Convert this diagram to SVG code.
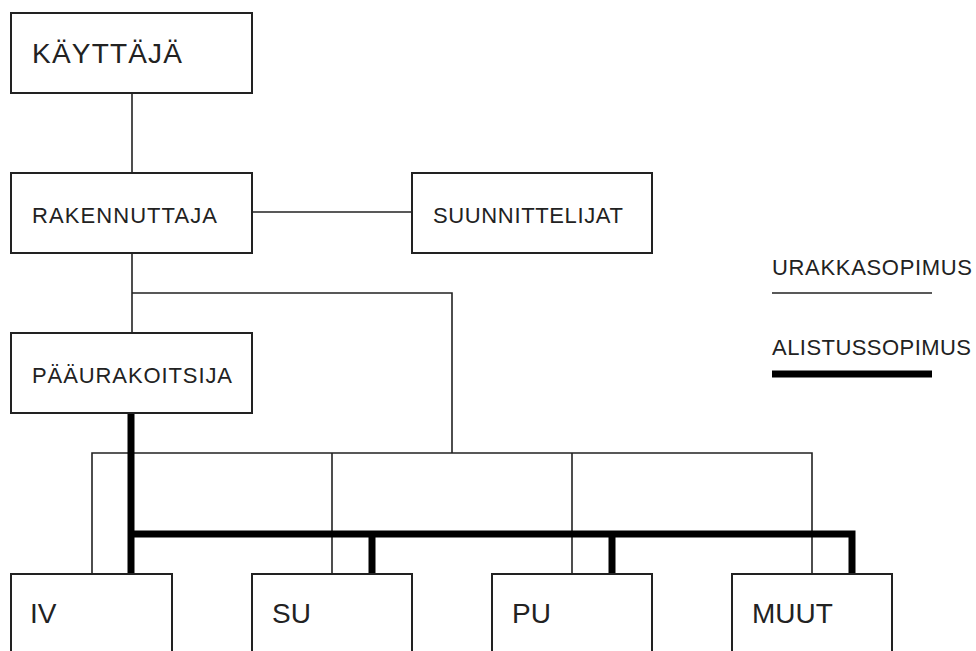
<svg xmlns="http://www.w3.org/2000/svg" width="976" height="651" viewBox="0 0 976 651">
<style>
.box{fill:#fff;stroke:#222;stroke-width:2}
.lbl{font-family:"Liberation Sans",Arial,sans-serif;fill:#222;font-size:22px}
.big{font-size:28px}
.thin{fill:none;stroke:#222;stroke-width:1.6}
.thick{fill:none;stroke:#000;stroke-width:7;stroke-linejoin:miter}
</style>
<rect width="976" height="651" fill="#fff"/>
<g id="connectors">
<line class="thin" x1="132" y1="93" x2="132" y2="173"/>
<line class="thin" x1="252" y1="212" x2="412" y2="212"/>
<line class="thin" x1="132" y1="253" x2="132" y2="333"/>
<polyline class="thin" points="132,293 452,293 452,453"/>
<polyline class="thin" points="92,574 92,453 812,453 812,574"/>
<line class="thin" x1="332" y1="453" x2="332" y2="574"/>
<line class="thin" x1="572" y1="453" x2="572" y2="574"/>
<line class="thick" x1="131" y1="413" x2="131" y2="574"/>
<polyline class="thick" points="131,534 852,534 852,574"/>
<line class="thick" x1="372" y1="534" x2="372" y2="574"/>
<line class="thick" x1="612" y1="534" x2="612" y2="574"/>
</g>
<g id="kayttaja">
<rect class="box" x="11" y="13" width="241" height="80"/>
<text class="lbl big" x="32" y="63" textLength="150" lengthAdjust="spacing">KÄYTTÄJÄ</text>
</g>
<g id="rakennuttaja">
<rect class="box" x="11" y="173" width="241" height="80"/>
<text class="lbl" x="32" y="223" textLength="185" lengthAdjust="spacing">RAKENNUTTAJA</text>
</g>
<g id="suunnittelijat">
<rect class="box" x="412" y="173" width="240" height="80"/>
<text class="lbl" x="433" y="223" textLength="190" lengthAdjust="spacing">SUUNNITTELIJAT</text>
</g>
<g id="paaurakoitsija">
<rect class="box" x="11" y="333" width="241" height="80"/>
<text class="lbl" x="32" y="383" textLength="200" lengthAdjust="spacing">PÄÄURAKOITSIJA</text>
</g>
<g id="iv">
<rect class="box" x="11" y="574" width="161" height="100"/>
<text class="lbl big" x="30" y="623">IV</text>
</g>
<g id="su">
<rect class="box" x="252" y="574" width="160" height="100"/>
<text class="lbl big" x="272" y="623">SU</text>
</g>
<g id="pu">
<rect class="box" x="492" y="574" width="160" height="100"/>
<text class="lbl big" x="512" y="623">PU</text>
</g>
<g id="muut">
<rect class="box" x="732" y="574" width="160" height="100"/>
<text class="lbl big" x="752" y="623">MUUT</text>
</g>
<g id="legend">
<text class="lbl" x="772" y="275" textLength="200" lengthAdjust="spacing">URAKKASOPIMUS</text>
<line class="thin" x1="772" y1="293" x2="932" y2="293"/>
<text class="lbl" x="772" y="355" textLength="199" lengthAdjust="spacing">ALISTUSSOPIMUS</text>
<line x1="772" y1="374" x2="932" y2="374" stroke="#000" stroke-width="7"/>
</g>
</svg>
